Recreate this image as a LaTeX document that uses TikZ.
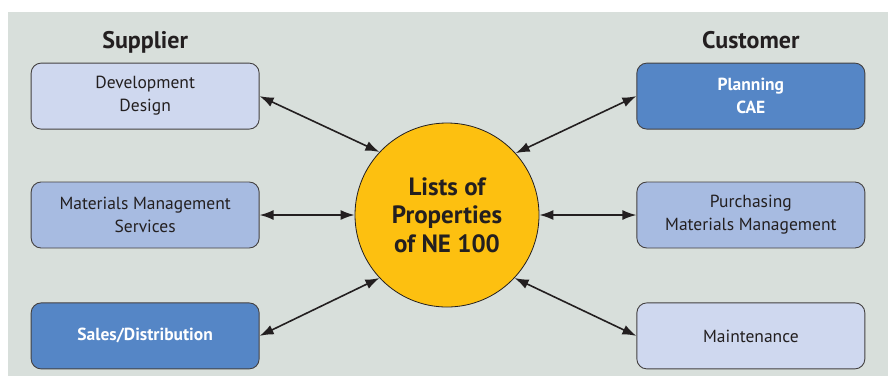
\documentclass[tikz,border=0pt]{standalone}
\usepackage{fontspec}
\setmainfont{PT Sans}
\usetikzlibrary{arrows.meta,positioning}

\definecolor{bgback}{HTML}{D8DFDB}
\definecolor{pale}{HTML}{CFD8EF}
\definecolor{mid}{HTML}{A7BBE1}
\definecolor{deep}{HTML}{5586C6}
\definecolor{gold}{HTML}{FDC010}
\definecolor{ink}{HTML}{231F20}

\begin{document}
\begin{tikzpicture}[x=1pt, y=-1pt, >={Latex[length=14pt,width=10pt]},
  unit/.style={rectangle, rounded corners=10pt, draw=ink!85, line width=0.9pt, minimum height=66pt, minimum width=228pt, text centered, align=center, font=\fontsize{17.5}{23}\selectfont, text=ink},
  paleunit/.style={unit, fill=pale},
  midunit/.style={unit, fill=mid},
  deepunit/.style={unit, fill=deep, text=white, font=\fontsize{17.5}{23}\selectfont\bfseries},
  side/.style={inner sep=0pt, text depth=5pt, font=\fontsize{24}{26}\selectfont\bfseries, text=ink},
  link/.style={<->, line width=1.6pt, draw=ink}]

\useasboundingbox (0,0) rectangle (888,376);
\fill[bgback] (8,12) rectangle (888,376);

%Nodes
\node[circle, draw=ink, line width=0.8pt, fill=gold, minimum size=184pt, align=center, font=\fontsize{25}{28.5}\selectfont\bfseries, text=ink] (props) at (447,215) {Lists of\\Properties\\of NE 100};
\node[midunit]  (mms)    [left=95pt of props]  {Materials Management\\Services};
\node[paleunit] (dev)    [above=52pt of mms]   {Development\\Design};
\node[deepunit] (sales)  [below=54pt of mms]   {Sales/Distribution};
\node[midunit]  (purch)  [right=97pt of props] {Purchasing\\Materials Management};
\node[deepunit] (plan)   [above=52pt of purch] {Planning\\CAE};
\node[paleunit] (maint)  [below=54pt of purch] {Maintenance};
\node[side]     (supp)   [above=9pt of dev]    {Supplier};
\node[side]     (cust)   [above=9pt of plan]   {Customer};
%Lines
\draw[link] (dev.east) -- (props.137);
\draw[link] (mms.east) -- (props.west);
\draw[link] (sales.east) -- (props.223);
\draw[link] (plan.west) -- (props.42);
\draw[link] (purch.west) -- (props.east);
\draw[link] (maint.west) -- (props.317);

\end{tikzpicture}
\end{document}
